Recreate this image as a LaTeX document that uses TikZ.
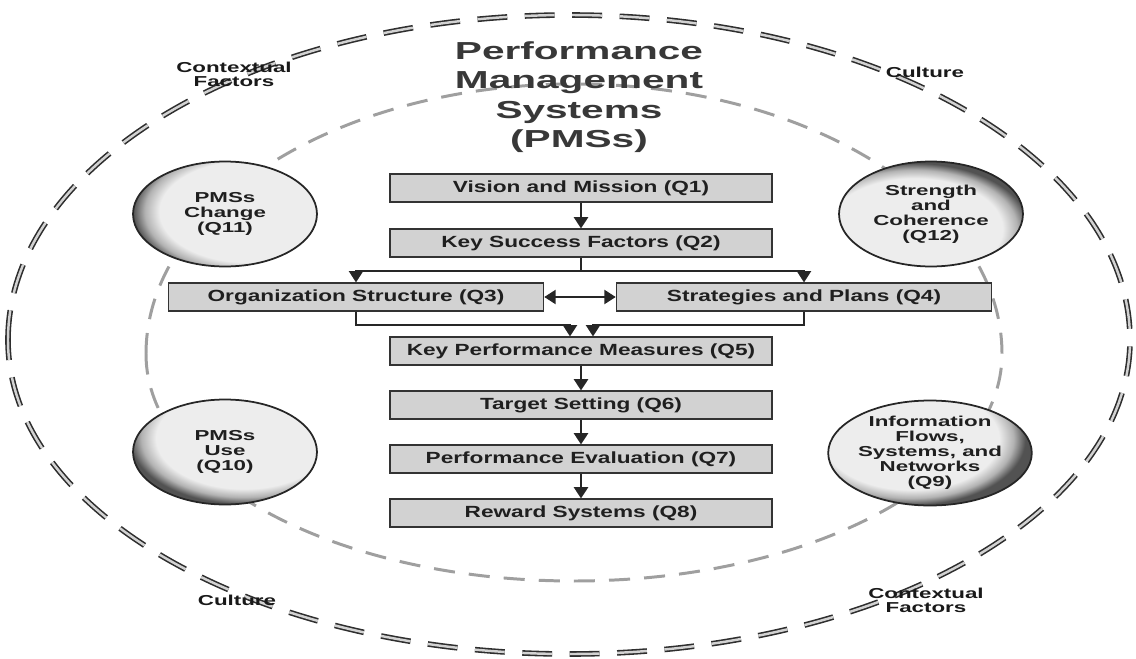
\documentclass[tikz,border=0pt]{standalone}
\usepackage{fontspec}
\usetikzlibrary{arrows.meta, positioning, calc, shapes.geometric}

\newfontfamily\pmsfont[FakeStretch=1.4]{Liberation Sans}
\newfontfamily\pmswidefont[FakeStretch=1.55]{Liberation Sans}
\newfontfamily\pmstitlefont[FakeStretch=1.65]{Liberation Sans}

% shading of the four balls: light core, dark rim on one side
% (path is twice the size of the ball, so the rim sits at 12.5bp)
\pgfdeclareradialshading{pmsball}{\pgfpoint{0bp}{0bp}}{%
  color(0bp)=(gray!14); color(9.6bp)=(gray!14); color(11.2bp)=(gray!60); color(12.5bp)=(black!68); color(50bp)=(black!68)}

\begin{document}
\begin{tikzpicture}[x=0.02cm, y=-0.02cm, >={Triangle[length=6.5pt,width=8pt]}, line join=miter]

		%======================
		% STYLES
		%======================
		\tikzset{
			qbox/.style={draw=black!80, line width=0.9pt, fill=gray!35, minimum width=7.64cm,
				minimum height=0.55cm, inner sep=0pt, text=black!88,
				font=\pmsfont\bfseries\fontsize{9.2}{10}\selectfont},
			qwide/.style={qbox, minimum width=7.5cm},
			ball/.style={ellipse, draw=black!85, line width=1pt, fill=gray!14,
				minimum width=3.68cm, minimum height=2.1cm, inner sep=0pt, align=center,
				text=black!88, font=\pmswidefont\bfseries\fontsize{8.2}{8.5}\selectfont,
				path picture={\shade[shading=pmsball] ($(path picture bounding box.center)+(#1)$)
					ellipse[x radius=4.58cm, y radius=2.64cm];}},
			ctx/.style={align=center, text=black!90, font=\pmswidefont\bfseries\fontsize{8.2}{7.8}\selectfont},
			flow/.style={->, black!85, line width=1.6pt},
			split/.style={black!85, line width=1.2pt},
			outerring/.style={draw=black!82, line width=0.9pt, double=gray!35, double distance=1.4pt,
				dash pattern=on 17pt off 10pt},
			innerring/.style={draw=gray!75, line width=1.7pt, dash pattern=on 12pt off 8pt}
		}
		
		\useasboundingbox (0,0) rectangle (1136,659);
		
		%----------------------
		% rings (upper and lower halves differ a little)
		%----------------------
		\draw[outerring] (8,340) arc[start angle=180, end angle=360, x radius=561, y radius=325]
			arc[start angle=0, end angle=180, x radius=561, y radius=314];
		\draw[innerring] (146,354) arc[start angle=180, end angle=360, x radius=428, y radius=270]
			arc[start angle=0, end angle=180, x radius=428, y radius=227];
		
		%----------------------
		% title and ring labels
		%----------------------
		\node[align=center, text=black!78, font=\pmstitlefont\bfseries\fontsize{14}{16.8}\selectfont]
			(title) at (579,97) {Performance\\Management\\Systems\\(PMSs)};
		
		\node[ctx] (ctxtl) at (234,74) {Contextual\\Factors};
		\node[ctx] (cultr) at (925,72) {Culture};
		\node[ctx] (cultl) at (237,600) {Culture};
		\node[ctx] (ctxbr) at (926,600) {Contextual\\Factors};
		
		%----------------------
		% central chain Q1--Q8
		%----------------------
		\node[qbox] (q1) at (581,188) {Vision and Mission (Q1)};
		\node[qbox] (q2) at (581,243) {Key Success Factors (Q2)};
		\node[qwide] (q3) at (356,297) {Organization Structure (Q3)};
		\node[qwide] (q4) at (804,297) {Strategies and Plans (Q4)};
		\node[qbox] (q5) at (581,351) {Key Performance Measures (Q5)};
		\node[qbox] (q6) at (581,405) {Target Setting (Q6)};
		\node[qbox] (q7) at (581,459) {Performance Evaluation (Q7)};
		\node[qbox] (q8) at (581,513) {Reward Systems (Q8)};
		
		% fork below Q2, join above Q5
		\coordinate (fork) at (581,271);
		\coordinate (join3) at (570,325);
		\coordinate (join4) at (593,325);
		
		\draw[flow] (q1) -- (q2);
		\draw[split] (q2.south) -- (fork);
		\draw[split,->] (fork) -| (q3);
		\draw[split,->] (fork) -| (q4);
		\draw[split,<->] (q3) -- (q4);
		\draw[split,->] (q3.south) |- (join3) -- (join3 |- q5.north);
		\draw[split,->] (q4.south) |- (join4) -- (join4 |- q5.north);
		\foreach \a/\b in {q5/q6, q6/q7, q7/q8}
			\draw[flow] (\a) -- (\b);
		
		%----------------------
		% balls Q9--Q12 (argument: shift of the light core)
		%----------------------
		\node[ball={0.45cm,0.05cm}] (q11) at (225,214) {PMSs\\Change\\(Q11)};
		\node[ball={-0.33cm,-0.3cm}] (q12) at (931,214) {Strength\\and\\Coherence\\(Q12)};
		\node[ball={0.38cm,0.28cm}] (q10) at (225,452) {PMSs\\Use\\(Q10)};
		\node[ball={-0.38cm,0.28cm}] (q9) at (930,453) {Information\\Flows,\\Systems, and\\Networks\\(Q9)};
		
	\end{tikzpicture}
\end{document}
